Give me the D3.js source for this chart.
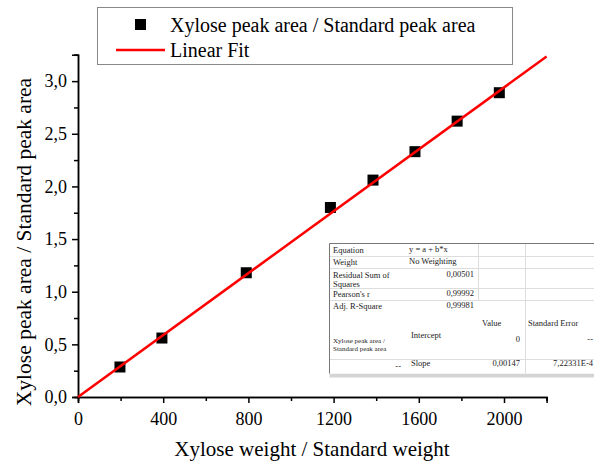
<!DOCTYPE html>
<html>
<head>
<meta charset="utf-8">
<script src="https://cdn.jsdelivr.net/npm/d3@7"></script>
<style>
  body { margin: 0; background: #fff; }
  svg { display: block; }
  svg text { font-family: "Liberation Serif", "Times New Roman", Times, serif; }
</style>
</head>
<body>
<div id="chart"></div>
<script>
// measured points
const weights = [197, 394, 790, 1185, 1385, 1582, 1780, 1978];
const ratios = [0.285, 0.56, 1.18, 1.80, 2.06, 2.33, 2.62, 2.89];

// linear fit y = a + b*x
const fitIntercept = 0;
const fitSlope = 0.00147;
const fitRange = [0, 2200];

const xTicks = [0, 400, 800, 1200, 1600, 2000];
const xMinor = [200, 600, 1000, 1400, 1800, 2200];
const yTicks = [0, 0.5, 1, 1.5, 2, 2.5, 3];
const yMinor = [0.25, 0.75, 1.25, 1.75, 2.25, 2.75, 3.25];

const legendLabels = ["Xylose peak area / Standard peak area", "Linear Fit"];
const xTitle = "Xylose weight / Standard weight";
const yTitle = "Xylose peak area / Standard peak area";

// fit report table
const statNames = [["Equation"], ["Weight"], ["Residual Sum of", "Squares"], ["Pearson's r"], ["Adj. R-Square"]];
const statValues = ["y = a + b*x", "No Weighting", "0,00501", "0,99992", "0,99981"];
const paramHeader = ["Value", "Standard Error"];
const paramNames = ["Intercept", "Slope"];
const paramValues = ["0", "0,00147"];
const paramErrors = ["--", "7,22331E-4"];
const seriesName = ["Xylose peak area /", "Standard peak area"];

const width = 594, height = 468;

const locale = d3.formatLocale({decimal: ",", thousands: ".", grouping: [3], currency: ["", ""]});

const svg = d3.select("#chart").append("svg")
  .attr("width", width)
  .attr("height", height);

const x = d3.scaleLinear().domain([0, 2200]).range([78, 546.6]);
const y = d3.scaleLinear().domain([0, 3.25]).range([397, 54.8]);

// axes
function styleAxis(g) {
  g.attr("font-family", null).attr("font-size", null);
  g.select(".domain").attr("stroke", "#000").attr("stroke-width", 1.5);
  g.selectAll(".tick line").attr("stroke", "#000").attr("stroke-width", 1.5);
  g.selectAll("text").style("font-size", "18px").attr("fill", "#000");
}

svg.append("g")
  .attr("transform", "translate(0,397)")
  .call(d3.axisBottom(x).tickValues(xMinor).tickSize(4).tickFormat(""))
  .call(styleAxis);
svg.append("g")
  .attr("transform", "translate(0,397)")
  .call(d3.axisBottom(x).tickValues(xTicks).tickSize(6).tickPadding(9).tickFormat(locale.format("d")))
  .call(styleAxis);

svg.append("g")
  .attr("transform", "translate(78,0)")
  .call(d3.axisLeft(y).tickValues(yMinor).tickSize(4).tickFormat(""))
  .call(styleAxis);
svg.append("g")
  .attr("transform", "translate(78,0)")
  .call(d3.axisLeft(y).tickValues(yTicks).tickSize(6).tickPadding(5).tickFormat(locale.format(".1f")))
  .call(styleAxis);

// titles
svg.append("text")
  .attr("x", 312).attr("y", 456)
  .attr("text-anchor", "middle")
  .style("font-size", "21px")
  .text(xTitle);

svg.append("text")
  .attr("transform", "translate(31,242) rotate(-90)")
  .attr("text-anchor", "middle")
  .style("font-size", "21.5px")
  .text(yTitle);

// points
const pts = weights.map((w, i) => ({x: w, y: ratios[i]}));
svg.append("g").selectAll("rect")
  .data(pts)
  .enter()
  .append("rect")
  .attr("x", d => x(d.x) - 5.5)
  .attr("y", d => y(d.y) - 5.5)
  .attr("width", 11)
  .attr("height", 11)
  .attr("fill", "#000");

// fit line
const line = d3.line().x(d => x(d)).y(d => y(fitIntercept + fitSlope * d));
svg.append("path")
  .datum(fitRange)
  .attr("d", line)
  .attr("fill", "none")
  .attr("stroke", "#ff0000")
  .attr("stroke-width", 2.5);

// legend
const legend = svg.append("g");
legend.append("rect")
  .attr("x", 97.5).attr("y", 7.5)
  .attr("width", 415).attr("height", 57)
  .attr("fill", "#fff")
  .attr("stroke", "#888").attr("stroke-width", 1);
legend.append("rect")
  .attr("x", 135).attr("y", 19).attr("width", 11).attr("height", 11)
  .attr("fill", "#000");
legend.append("line")
  .attr("x1", 116).attr("x2", 165).attr("y1", 50).attr("y2", 50)
  .attr("stroke", "#ff0000").attr("stroke-width", 2.5);
legend.selectAll("text.lab")
  .data(legendLabels)
  .enter()
  .append("text")
  .attr("class", "lab")
  .attr("x", 170)
  .attr("y", (d, i) => 32 + i * 25)
  .style("font-size", "20px")
  .text(d => d);

// fit table
const tb = svg.append("g").attr("fill", "#222");
const tLeft = 329.5, tRight = 600, tTop = 243.5, tBottom = 373.5;
const rowLines = [256, 268, 288, 300, 359];
const colA = 407, colB = 478, colC = 525;

tb.append("rect")
  .attr("x", tLeft).attr("y", tBottom)
  .attr("width", tRight - tLeft).attr("height", 4)
  .attr("fill", "#d4d4d4");
tb.append("rect")
  .attr("x", tLeft).attr("y", tTop)
  .attr("width", tRight - tLeft).attr("height", tBottom - tTop)
  .attr("fill", "#fff");
tb.selectAll("line.row")
  .data(rowLines)
  .enter()
  .append("line")
  .attr("x1", tLeft).attr("x2", tRight)
  .attr("y1", d => d + 0.5).attr("y2", d => d + 0.5)
  .attr("stroke", "#ddd");
tb.append("line")
  .attr("x1", colB + 0.5).attr("x2", colB + 0.5).attr("y1", tTop).attr("y2", 300)
  .attr("stroke", "#ddd");
tb.append("line")
  .attr("x1", colC + 0.5).attr("x2", colC + 0.5).attr("y1", tTop).attr("y2", tBottom)
  .attr("stroke", "#ddd");
tb.append("path")
  .attr("d", `M${tLeft},${tBottom}V${tTop}H${tRight}`)
  .attr("fill", "none")
  .attr("stroke", "#777");

function cell(xp, yp, s, anchor, size) {
  return tb.append("text")
    .attr("x", xp).attr("y", yp)
    .attr("text-anchor", anchor || "start")
    .style("font-size", (size || 8.5) + "px")
    .text(s);
}

const statBase = [253, 265, 278, 297, 309];
statNames.forEach((lines, i) => {
  lines.forEach((s, j) => cell(333, statBase[i] + j * 9, s));
  const v = statValues[i];
  const numeric = /^[0-9]/.test(v);
  cell(numeric ? 474 : colA + 2, statBase[i] - 1, v, numeric ? "end" : "start");
});

cell(482, 326, paramHeader[0]);
cell(528, 326, paramHeader[1]);

seriesName.forEach((s, j) => cell(333, 343 + j * 8, s, "start", 7));
cell(401, 369, "--", "end");

const paramBase = [342, 366];
paramNames.forEach((s, i) => {
  cell(411, paramBase[i] - (i === 0 ? 4 : 0), s);
  cell(520, paramBase[i], paramValues[i], "end");
  cell(593, paramBase[i], paramErrors[i], "end");
});
</script>
</body>
</html>
